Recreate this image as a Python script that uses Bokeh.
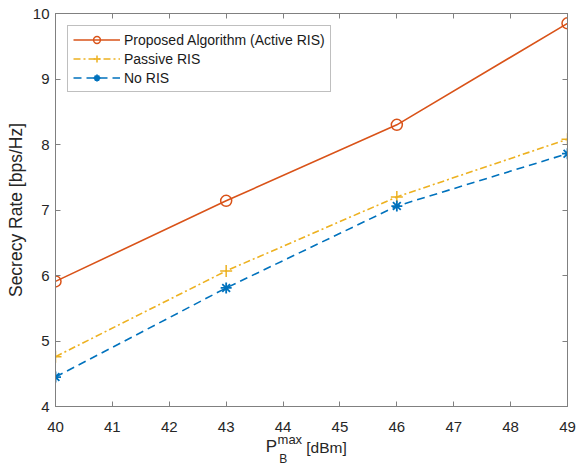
from bokeh.plotting import figure
from bokeh.models import Range1d, LinearAxis, Legend, LegendItem, FixedTicker
from bokeh.embed import file_html
from bokeh.resources import INLINE

power_dbm = [40, 43, 46, 49]
active_ris = [5.91, 7.14, 8.30, 9.85]
passive_ris = [4.76, 6.07, 7.20, 8.08]
no_ris = [4.45, 5.81, 7.06, 7.86]
x_ticks = list(range(40, 50))
y_ticks = [4, 5, 6, 7, 8, 9, 10]

FONT = "Liberation Sans"
AX = "#808080"
TXT = "#262626"
C_ACT = "#D95319"
C_PAS = "#EDB120"
C_NO = "#0072BD"
NB = "\u00a0"

p = figure(width=576, height=468, output_backend="svg", toolbar_location=None,
           x_range=Range1d(40, 49), y_range=Range1d(4, 10),
           min_border_left=55, min_border_right=9, min_border_top=13, min_border_bottom=61)
p.xgrid.visible = False
p.ygrid.visible = False
p.outline_line_color = AX
p.outline_line_width = 1
p.background_fill_color = "white"
p.border_fill_color = "white"


def style_axis(ax, show_labels=True):
    ax.major_tick_in = 5
    ax.major_tick_out = 0
    ax.minor_tick_in = 0
    ax.minor_tick_out = 0
    ax.axis_line_color = AX
    ax.major_tick_line_color = AX
    ax.major_label_text_font = FONT
    ax.major_label_text_font_size = "15px" if show_labels else "0px"
    ax.major_label_text_color = TXT if show_labels else None
    ax.major_label_standoff = 6 if show_labels else 0


p.xaxis.ticker = FixedTicker(ticks=x_ticks)
p.yaxis.ticker = FixedTicker(ticks=y_ticks)
style_axis(p.xaxis[0])
style_axis(p.yaxis[0])
p.xaxis.major_label_standoff = 15
p.xaxis.axis_label = None
p.yaxis.axis_label = "Secrecy Rate [bps/Hz]"
p.yaxis.axis_label_text_font = FONT
p.yaxis.axis_label_text_font_size = "17.5px"
p.yaxis.axis_label_text_font_style = "normal"
p.yaxis.axis_label_text_color = TXT
p.yaxis.axis_label_standoff = 4

top = LinearAxis(ticker=FixedTicker(ticks=x_ticks))
right = LinearAxis(ticker=FixedTicker(ticks=y_ticks))
style_axis(top, False)
style_axis(right, False)
p.add_layout(top, "above")
p.add_layout(right, "right")


# x-axis title  P_B^max [dBm]  built from label-only axes stacked below the main axis
def label_axis(text, size, standoff):
    ax = LinearAxis(ticker=FixedTicker(ticks=[]), axis_label=text)
    ax.axis_line_color = None
    ax.major_tick_line_color = None
    ax.minor_tick_line_color = None
    ax.major_label_text_font_size = "0px"
    ax.major_label_standoff = 0
    ax.major_tick_in = 0
    ax.major_tick_out = 0
    ax.minor_tick_in = 0
    ax.minor_tick_out = 0
    ax.axis_label_text_font = FONT
    ax.axis_label_text_font_size = size
    ax.axis_label_text_font_style = "normal"
    ax.axis_label_text_color = TXT
    ax.axis_label_standoff = standoff
    p.add_layout(ax, "below")


label_axis("max" + NB * 12, "13px", -3)
label_axis("P" + NB * 17, "17px", -13)
label_axis(NB * 7 + "[dBm]", "15.5px", -20)
label_axis("B" + NB * 17, "12px", -7)

l1 = p.line(power_dbm, active_ris, line_color=C_ACT, line_width=1.6)
m1 = p.scatter(power_dbm, active_ris, marker="circle", size=11, fill_color=None,
               line_color=C_ACT, line_width=1.5)
l2 = p.line(power_dbm, passive_ris, line_color=C_PAS, line_width=1.6, line_dash="7 3 2 3")
m2 = p.scatter(power_dbm, passive_ris, marker="cross", size=12, line_color=C_PAS, line_width=1.5)
l3 = p.line(power_dbm, no_ris, line_color=C_NO, line_width=1.6, line_dash="8 5")
m3 = p.scatter(power_dbm, no_ris, marker="asterisk", size=11, line_color=C_NO, line_width=1.8)

legend = Legend(items=[
    LegendItem(label="Proposed Algorithm (Active RIS)", renderers=[l1, m1]),
    LegendItem(label="Passive RIS", renderers=[l2, m2]),
    LegendItem(label="No RIS", renderers=[l3, m3]),
], location="top_left")
legend.label_text_font = FONT
legend.label_text_font_size = "14px"
legend.label_text_color = "#1a1a1a"
legend.border_line_color = AX
legend.border_line_width = 1
legend.margin = 12
legend.padding = 5
legend.spacing = 2
legend.label_height = 17
legend.glyph_height = 17
legend.glyph_width = 47
legend.label_standoff = 4
p.add_layout(legend)

open("out.html", "w").write(file_html(p, INLINE))
